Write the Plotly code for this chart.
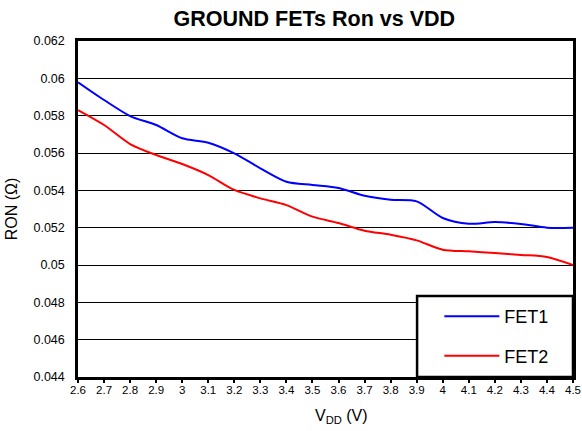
import plotly.graph_objects as go

vdd = [2.6, 2.7, 2.8, 2.9, 3.0, 3.1, 3.2, 3.3, 3.4, 3.5,
       3.6, 3.7, 3.8, 3.9, 4.0, 4.1, 4.2, 4.3, 4.4, 4.5]
fet1 = [0.05979, 0.05884, 0.05798, 0.05750, 0.05679, 0.05655, 0.05598, 0.05518, 0.05446, 0.05429,
        0.05413, 0.05371, 0.05350, 0.05341, 0.05252, 0.05221, 0.05230, 0.05220, 0.05200, 0.05200]
fet2 = [0.05830, 0.05750, 0.05648, 0.05589, 0.05541, 0.05482, 0.05402, 0.05357, 0.05321, 0.05259,
        0.05225, 0.05184, 0.05162, 0.05132, 0.05082, 0.05073, 0.05064, 0.05054, 0.05043, 0.05000]

x_ticks = [2.6, 2.7, 2.8, 2.9, 3.0, 3.1, 3.2, 3.3, 3.4, 3.5,
           3.6, 3.7, 3.8, 3.9, 4.0, 4.1, 4.2, 4.3, 4.4, 4.5]
x_labels = ["2.6", "2.7", "2.8", "2.9", "3", "3.1", "3.2", "3.3", "3.4", "3.5",
            "3.6", "3.7", "3.8", "3.9", "4", "4.1", "4.2", "4.3", "4.4", "4.5"]
y_ticks = [0.044, 0.046, 0.048, 0.050, 0.052, 0.054, 0.056, 0.058, 0.060, 0.062]
y_labels = ["0.044", "0.046", "0.048", "0.05", "0.052", "0.054", "0.056", "0.058", "0.06", "0.062"]

FONT = "Liberation Sans, Arial, sans-serif"

fig = go.Figure()
fig.add_trace(go.Scatter(x=vdd, y=fet1, name="FET1", mode="lines",
                         line=dict(color="#0000FF", width=2, shape="spline", smoothing=0.8),
                         legendgroup="g1"))
fig.add_trace(go.Scatter(x=vdd, y=fet2, name="FET2", mode="lines",
                         line=dict(color="#FF0000", width=2, shape="spline", smoothing=0.8),
                         legendgroup="g2"))

# legend frame
fig.add_shape(type="rect", xref="paper", yref="paper", x0=0.685, x1=1.0, y0=0.0, y1=0.241,
              line=dict(color="black", width=2.5), fillcolor="white", layer="above")

# x-axis title
fig.add_annotation(text="V<sub>DD</sub> (V)", xref="paper", yref="paper",
                   x=0.533, y=-0.119, xanchor="center", yanchor="middle", showarrow=False,
                   font=dict(size=16, family=FONT, color="black"))

fig.update_layout(
    width=582, height=431,
    margin=dict(l=78, r=9, t=41, b=54, autoexpand=False),
    paper_bgcolor="white", plot_bgcolor="white",
    font=dict(family=FONT, color="black"),
    title=dict(text="<b>GROUND FETs Ron vs VDD</b>", x=0.54, xanchor="center",
               xref="container", yref="container",
               y=0.956, yanchor="middle", font=dict(size=21.5, family=FONT)),
    xaxis=dict(range=[2.6, 4.5], tickvals=x_ticks, ticktext=x_labels,
               tickfont=dict(size=11.5), ticks="outside", ticklen=3, tickwidth=1.5,
               tickcolor="black", showgrid=False, zeroline=False, automargin=False,
               ticklabelstandoff=-3,
               showline=True, linecolor="black", linewidth=2.5, mirror=True),
    yaxis=dict(range=[0.044, 0.062], tickvals=y_ticks, ticktext=y_labels,
               tickfont=dict(size=12.5), ticks="", showgrid=True, gridcolor="black",
               gridwidth=1, zeroline=False, automargin=False, ticklabelstandoff=8,
               showline=True, linecolor="black", linewidth=2.5, mirror=True,
               title=dict(text="RON (Ω)", font=dict(size=16), standoff=12)),
    showlegend=True,
    legend=dict(x=0.73, y=0.235, xanchor="left", yanchor="top",
                bgcolor="rgba(0,0,0,0)", borderwidth=0, itemwidth=55,
                font=dict(size=18, family=FONT), tracegroupgap=13,
                traceorder="grouped"),
)

fig.write_html("out.html", config={"displayModeBar": False},
               post_script="document.body.style.margin='0';document.body.style.overflow='hidden';")
